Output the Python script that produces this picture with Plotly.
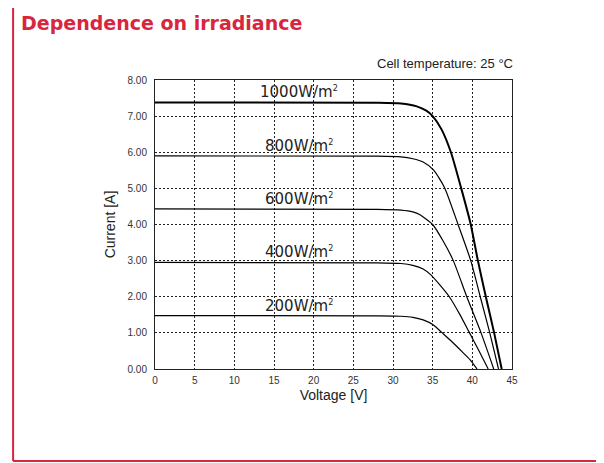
import plotly.graph_objects as go

# ---- data ----
sup2 = "<sup><span style='font-size:8px'>2</span></sup>"
irradiance_labels = ["1000W/m" + sup2, "800W/m" + sup2, "600W/m" + sup2,
                     "400W/m" + sup2, "200W/m" + sup2]

v1000 = [0, 28, 31, 33, 34.2, 35.0, 36.1, 37.3, 38.6, 39.8, 40.7, 41.7, 42.75, 43.7]
i1000 = [7.38, 7.37, 7.35, 7.27, 7.15, 7.00, 6.64, 6.00, 5.00, 4.00, 3.00, 2.00, 1.00, 0]

v800 = [0, 28, 31, 32.5, 33.8, 35.1, 36.5, 38.2, 39.8, 41.0, 42.2, 43.3]
i800 = [5.90, 5.89, 5.87, 5.82, 5.73, 5.51, 5.02, 4.00, 3.00, 2.00, 1.00, 0]

v600 = [0, 28, 31, 32.5, 33.4, 35.0, 36.3, 37.6, 39.3, 41.1, 42.7]
i600 = [4.43, 4.42, 4.40, 4.35, 4.27, 4.00, 3.55, 3.00, 2.00, 1.00, 0]

v400 = [0, 28, 31, 32.5, 33.8, 34.7, 35.9, 37.1, 38.4, 39.6, 40.8, 42.0]
i400 = [2.95, 2.94, 2.92, 2.87, 2.77, 2.62, 2.33, 2.00, 1.52, 1.02, 0.52, 0]

v200 = [0, 28, 31, 32.5, 33.8, 35.1, 36.1, 37.4, 38.7, 39.7, 40.6]
i200 = [1.48, 1.47, 1.46, 1.43, 1.36, 1.22, 1.02, 0.76, 0.48, 0.26, 0]

x_ticks = [0, 5, 10, 15, 20, 25, 30, 35, 40, 45]
y_ticks = [0, 1, 2, 3, 4, 5, 6, 7, 8]

label_x = 18.2

series = [(v1000, i1000, 2.0), (v800, i800, 1.2), (v600, i600, 1.2),
          (v400, i400, 1.2), (v200, i200, 1.2)]

RED = "#D7263D"

fig = go.Figure()
for (v, i, w), lab in zip(series, irradiance_labels):
    fig.add_trace(go.Scatter(x=v, y=i, mode="lines",
                             line=dict(color="black", width=w, shape="spline", smoothing=0.6),
                             showlegend=False, hoverinfo="skip"))
    fig.add_annotation(x=label_x, y=i[0], xref="x", yref="y", text=lab,
                       showarrow=False, xanchor="center", yanchor="bottom", yshift=-1,
                       font=dict(family="DejaVu Sans", size=15, color="#222"))

axis_common = dict(showline=True, linecolor="#222", linewidth=1, mirror=True,
                   showgrid=True, gridcolor="#222", gridwidth=1, griddash="2px,2px",
                   zeroline=False, ticks="", tickfont=dict(family="Liberation Sans", size=10, color="#333"))

fig.update_xaxes(range=[0, 45], tickvals=x_ticks, ticktext=[str(t) for t in x_ticks],
                 title=dict(text="Voltage [V]", font=dict(family="Liberation Sans", size=14, color="#222"),
                            standoff=5),
                 ticklabelstandoff=2, **axis_common)
fig.update_yaxes(range=[0, 8], tickvals=y_ticks, ticktext=[f"{t:.2f}" for t in y_ticks],
                 title=dict(text="Current [A]", font=dict(family="Liberation Sans", size=14, color="#222"),
                            standoff=8),
                 ticklabelstandoff=5, **axis_common)

# title and temperature note
fig.add_annotation(x=-0.381, y=1.198, xref="paper", yref="paper", text="<b>Dependence on irradiance</b>",
                   showarrow=False, xanchor="left", yanchor="middle",
                   font=dict(family="DejaVu Sans", size=19, color=RED))
fig.add_annotation(x=1.008, y=1.057, xref="paper", yref="paper", text="Cell temperature: 25 °C",
                   showarrow=False, xanchor="right", yanchor="middle",
                   font=dict(family="Liberation Sans", size=13, color="#222"))

# red frame (left and bottom)
fig.add_shape(type="line", xref="paper", yref="paper", x0=-0.3975, x1=-0.3975, y0=-0.318, y1=1.3,
              line=dict(color=RED, width=2))
fig.add_shape(type="line", xref="paper", yref="paper", x0=-0.3975, x1=1.3, y0=-0.318, y1=-0.318,
              line=dict(color=RED, width=2))

# page has an 8px body margin, so the figure is sized to fill the window from there
fig.update_layout(width=596, height=455, autosize=False,
                  margin=dict(l=146.5, r=91.5, t=71.5, b=93.5),
                  paper_bgcolor="white", plot_bgcolor="white", showlegend=False)

fig.write_html("out.html")
